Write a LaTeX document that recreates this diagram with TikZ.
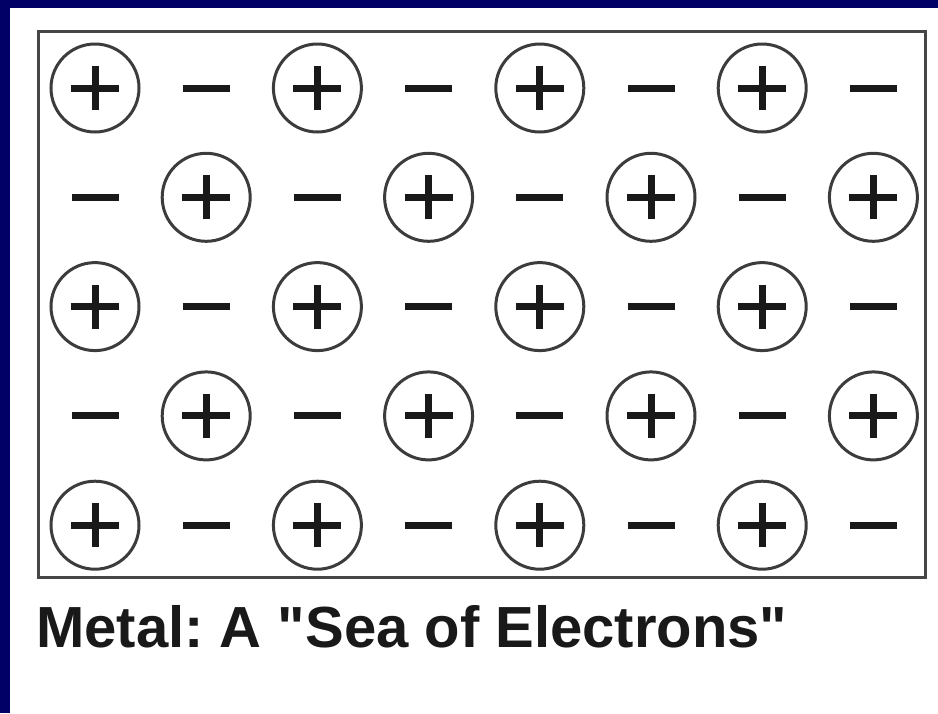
\documentclass[tikz,border=0pt]{standalone}
\usepackage{fontspec}
\newfontfamily\capfont{Liberation Sans Bold}
\frenchspacing
\definecolor{navy}{RGB}{0,0,102}
\definecolor{ink}{RGB}{25,25,25}
\definecolor{frame}{RGB}{70,70,70}
\begin{document}
\begin{tikzpicture}[x=1pt,y=-1pt,
  ion/.style={circle,draw=ink!85,line width=3pt,minimum size=88pt,inner sep=0pt,
    path picture={\draw[ink,line width=7pt] ([xshift=-24pt]path picture bounding box.center) -- ([xshift=24pt]path picture bounding box.center);
                  \draw[ink,line width=7pt] ([yshift=-22pt]path picture bounding box.center) -- ([yshift=22pt]path picture bounding box.center);}},
  electron/.style={rectangle,fill=ink,minimum width=47pt,minimum height=7pt,inner sep=0pt},
  caption/.style={anchor=base west,inner sep=0pt,font=\capfont\fontsize{58}{60}\selectfont,text=ink}]
\fill[navy] (0,0) rectangle (938,713);
\fill[white] (10,8) rectangle (938,713);
\useasboundingbox (0,0) rectangle (938,713);
\draw[frame,line width=3pt] (38,31) rectangle (925,577);
\foreach \j in {0,...,4}{
  \foreach \k in {0,...,7}{
    \pgfmathsetmacro{\xx}{95+111.2*\k}
    \pgfmathsetmacro{\yy}{88+109.3*\j}
    \pgfmathtruncatemacro{\parity}{mod(\j+\k,2)}
    \ifnum\parity=0
      \node[ion] (s-\j-\k) at (\xx,\yy) {};
    \else
      \node[electron] (s-\j-\k) at (\xx,\yy) {};
    \fi
  }
}
\node[caption] (cap) at (36,647) {Metal: A "Sea of Electrons"};
\end{tikzpicture}
\end{document}
